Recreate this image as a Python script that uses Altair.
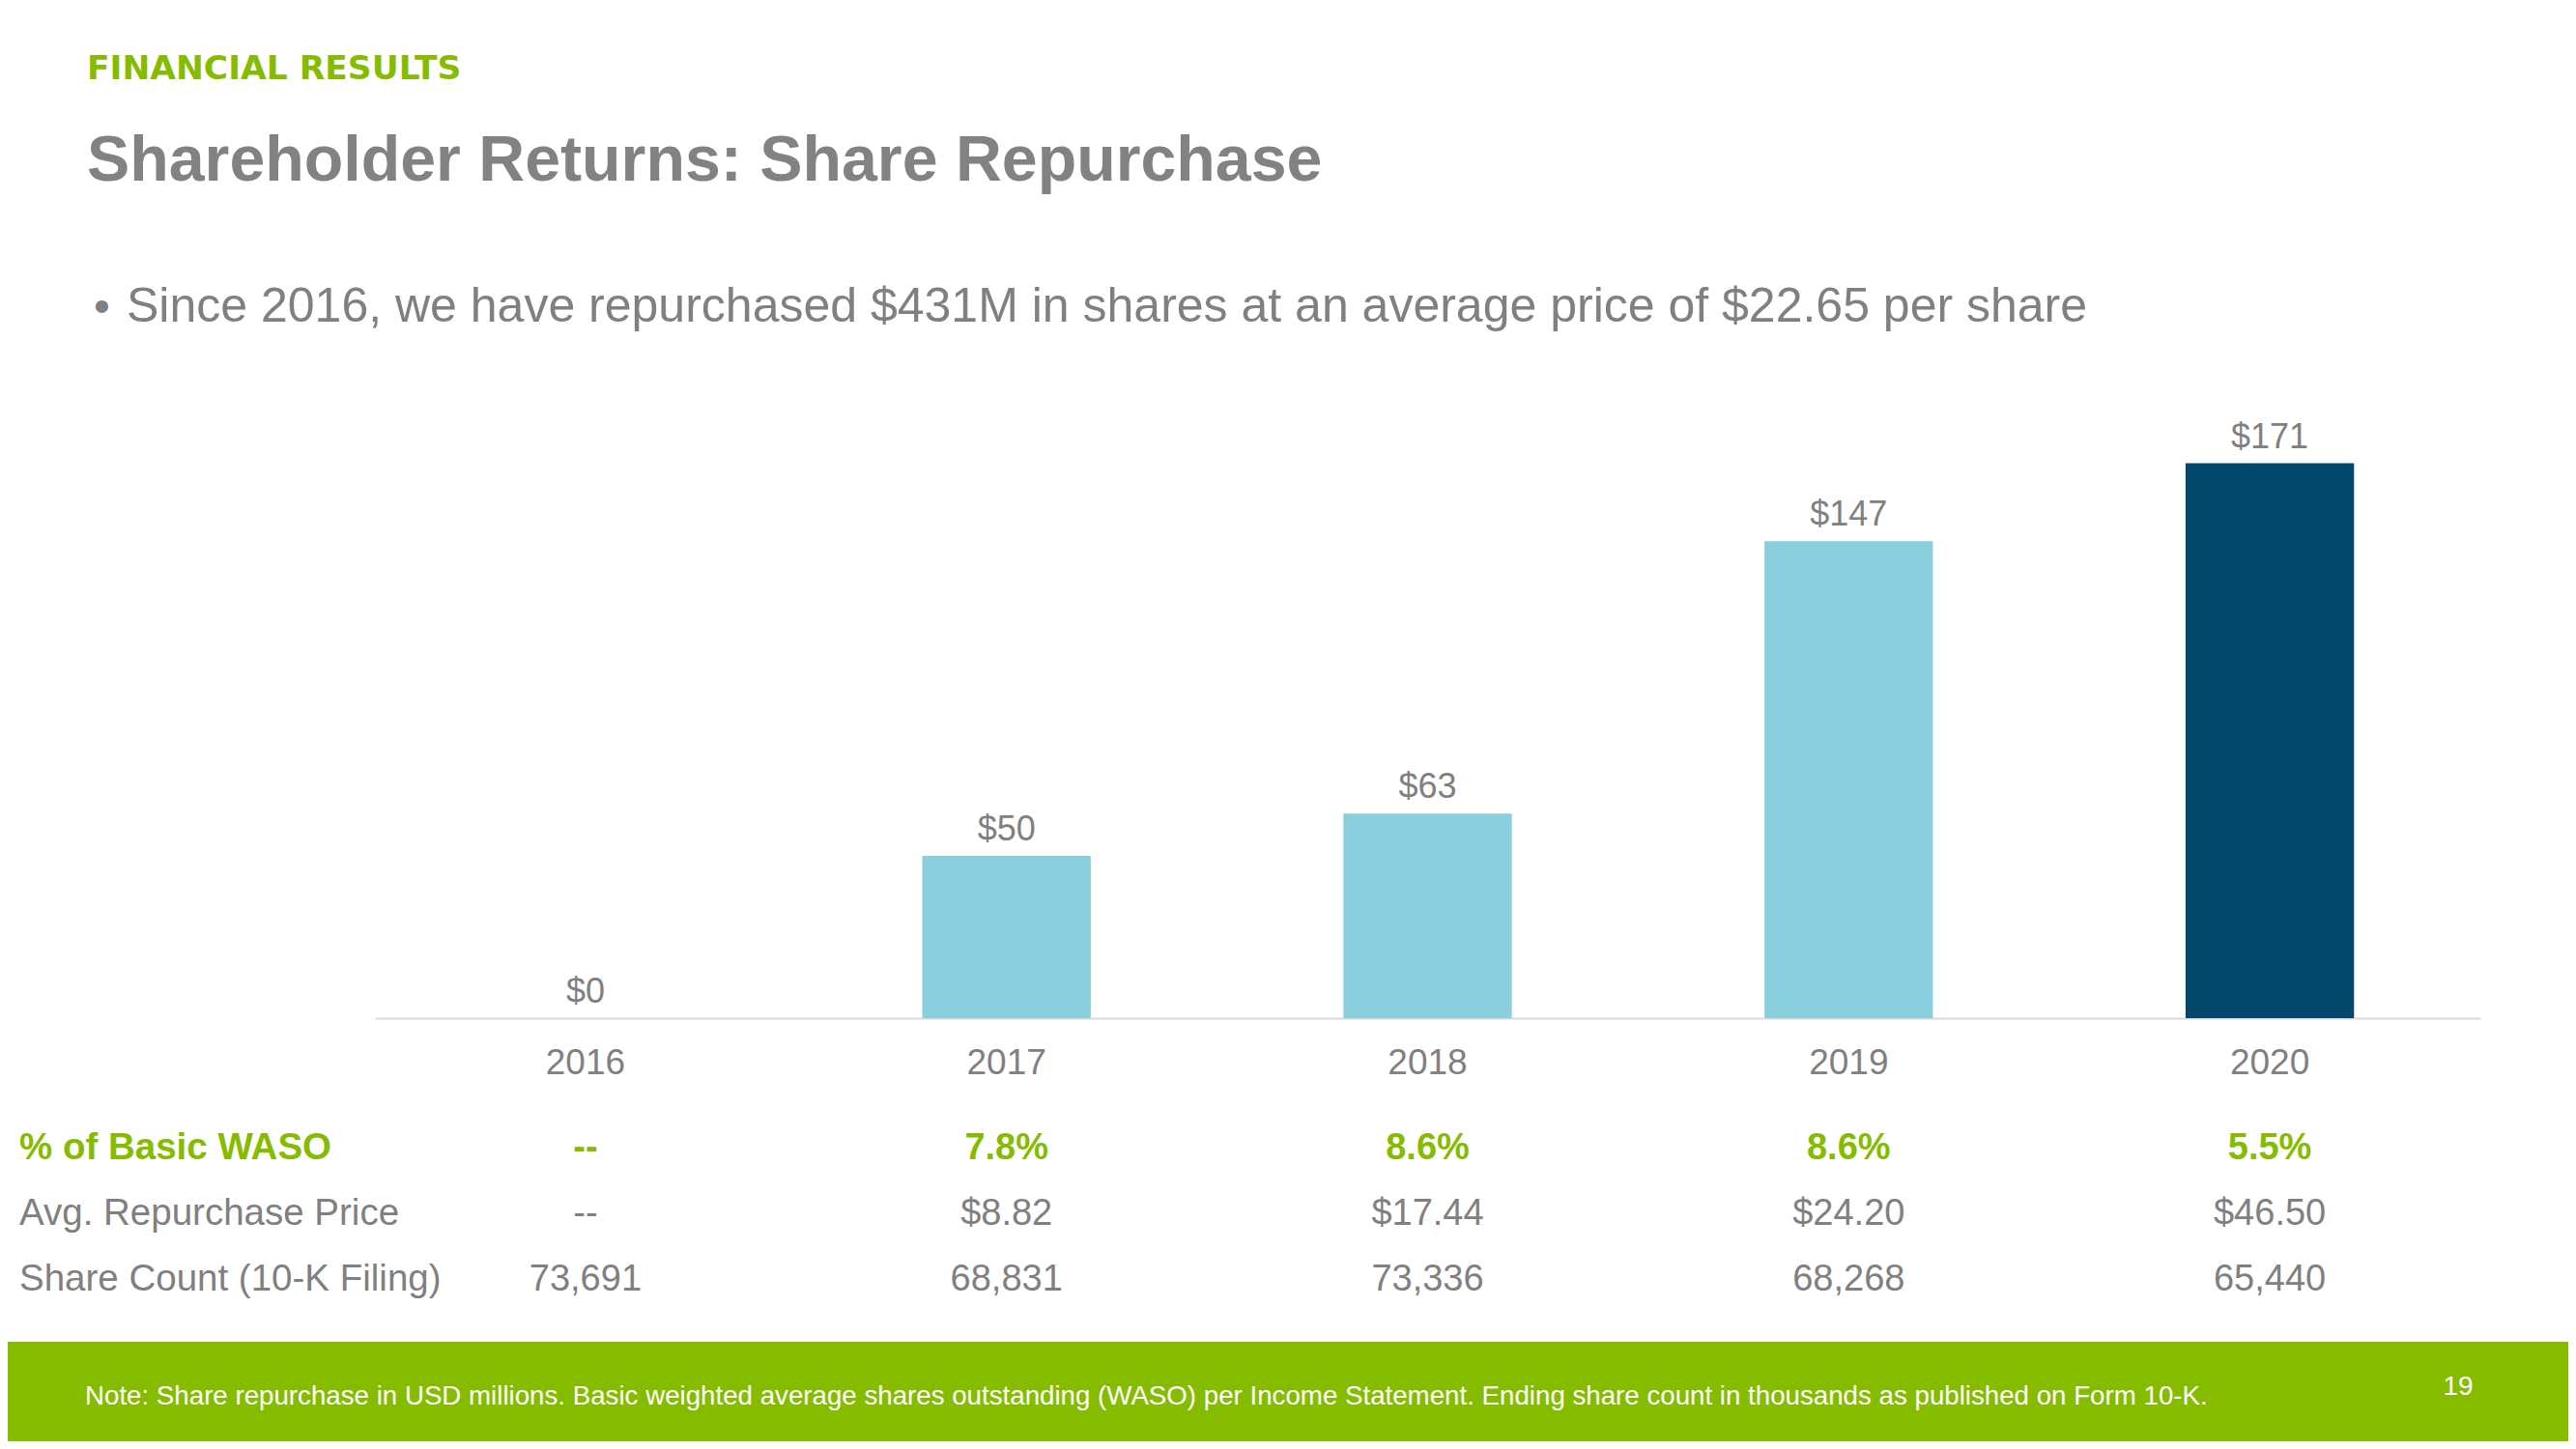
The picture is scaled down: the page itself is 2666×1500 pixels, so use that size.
import altair as alt
import pandas as pd

# ---------------- data ----------------
years = ["2016", "2017", "2018", "2019", "2020"]
repurchase = [0, 50, 63, 147, 171]
value_labels = ["$0", "$50", "$63", "$147", "$171"]
waso_pct = ["--", "7.8%", "8.6%", "8.6%", "5.5%"]
avg_price = ["--", "$8.82", "$17.44", "$24.20", "$46.50"]
share_count = ["73,691", "68,831", "73,336", "68,268", "65,440"]
row_labels = ["% of Basic WASO", "Avg. Repurchase Price", "Share Count (10-K Filing)"]

kicker = "FINANCIAL RESULTS"
title = "Shareholder Returns: Share Repurchase"
subtitle = "Since 2016, we have repurchased $431M in shares at an average price of $22.65 per share"
note = ("Note: Share repurchase in USD millions.  Basic weighted average shares outstanding (WASO) "
        "per Income Statement. Ending share count in thousands as published on Form 10-K.")
page_no = "19"

# ---------------- style ----------------
FONT = "Liberation Sans, Arial, sans-serif"
HEAVY_FONT = "DejaVu Sans, Liberation Sans, sans-serif"
GRAY = "#808080"
TITLE_GRAY = "#828282"
GREEN = "#86BC00"
LIGHT = "#89CFDD"
DARK = "#02466A"
AXIS = "#D9D9D9"

df = pd.DataFrame({
    "year": years,
    "value": repurchase,
    "label": value_labels,
    "waso": waso_pct,
    "price": avg_price,
    "count": share_count,
})

x_enc = alt.X(
    "year:N",
    sort=years,
    scale=alt.Scale(paddingInner=0.6, paddingOuter=0.3),
    axis=alt.Axis(
        title=None, labelAngle=0, ticks=False, tickSize=0, grid=False,
        domainColor=AXIS, domainWidth=2, labelFontSize=37, labelColor=GRAY,
        labelFont=FONT, labelPadding=28,
    ),
)
y_enc = alt.Y("value:Q", scale=alt.Scale(domain=[0, 193.5]), axis=None)

base = alt.Chart(df)

bars = base.mark_bar().encode(
    x=x_enc,
    y=y_enc,
    color=alt.condition(alt.datum.year == "2020", alt.value(DARK), alt.value(LIGHT)),
)

bar_labels = base.mark_text(
    baseline="alphabetic", dy=-16, fontSize=36, color=GRAY, font=FONT
).encode(x=alt.X("year:N", sort=years), y=y_enc, text="label:N")


def free_text(txt, x, y, size, color, weight="normal", align="left",
              baseline="alphabetic", font=FONT):
    return alt.Chart(pd.DataFrame({"t": [txt]})).mark_text(
        align=align, baseline=baseline, fontSize=size, color=color,
        fontWeight=weight, font=font,
    ).encode(x=alt.value(x), y=alt.value(y), text="t:N")


def table_row(field, label, y, color, weight):
    vals = base.mark_text(
        align="center", baseline="alphabetic", fontSize=38, color=color,
        fontWeight=weight, font=FONT,
    ).encode(x=alt.X("year:N", sort=years), y=alt.value(y), text=f"{field}:N")
    lab = free_text(label, -368, y, 38.5, color, weight)
    return [vals, lab]


layers = [bars, bar_labels]
layers += table_row("waso", row_labels[0], 796, GREEN, "bold")
layers += table_row("price", row_labels[1], 864, GRAY, "normal")
layers += table_row("count", row_labels[2], 932, GRAY, "normal")

# header texts
layers.append(free_text(kicker, -298, -322, 34.5, GREEN, "bold", font=HEAVY_FONT))
layers.append(free_text(title, -298, -217, 66.3, TITLE_GRAY, "bold"))
layers.append(free_text("\u2022", -291, -71, 48, GRAY))
layers.append(free_text(subtitle, -257, -71, 50, GRAY))

# footer band
footer = alt.Chart(pd.DataFrame({"a": [0]})).mark_rect(color=GREEN).encode(
    x=alt.value(-380), x2=alt.value(2270), y=alt.value(985), y2=alt.value(1088)
)
layers.append(footer)
layers.append(free_text(note, -300, 1050, 27.7, "white"))
layers.append(free_text(page_no, 2156, 1040, 28, "white", align="center"))

chart = alt.layer(*layers).properties(
    width=2179,
    height=650,
    padding={"left": 380, "top": 396, "right": 91, "bottom": 438},
    autosize=alt.AutoSizeParams(type="none"),
    background="white",
).configure_view(strokeWidth=0)

chart.save("out.html", embed_options={"renderer": "svg", "actions": False})
